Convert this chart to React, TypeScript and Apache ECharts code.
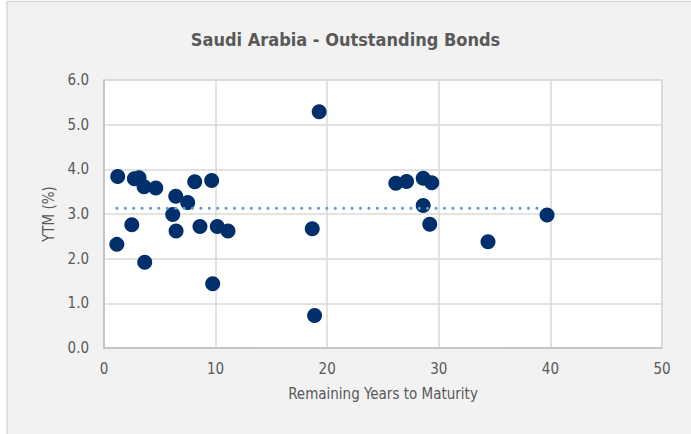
import React, { useEffect, useRef } from "react";
import * as echarts from "echarts";

const maturityYears = [1.23, 1.15, 2.49, 2.72, 3.14, 3.59, 3.65, 4.64, 6.43, 6.16, 6.46, 7.5, 8.13, 8.6, 9.65, 9.74, 10.15, 11.11, 18.66, 19.28, 18.87, 26.15, 27.11, 28.6, 29.37, 28.6, 29.19, 34.41, 39.7];
const ytmValues = [3.84, 2.32, 2.76, 3.79, 3.81, 3.61, 1.92, 3.58, 3.4, 2.99, 2.62, 3.26, 3.72, 2.72, 3.75, 1.44, 2.72, 2.62, 2.67, 5.29, 0.73, 3.69, 3.73, 3.8, 3.7, 3.19, 2.77, 2.38, 2.98];
const averageLineX = [1.15, 39.0];
const averageYtm = 3.13;

const FONT = "'Liberation Sans Narrow', 'DejaVu Sans Condensed', 'Roboto Condensed', sans-serif";

export default function App() {
  const ref = useRef<HTMLDivElement>(null);
  useEffect(() => {
    if (!ref.current) return;
    const chart = echarts.init(ref.current, undefined, { renderer: "svg" });
    const points = maturityYears.map((x, i) => [x, ytmValues[i]]);
    chart.setOption({
      animation: false,
      backgroundColor: "#ffffff",
      graphic: [
        {
          type: "rect",
          z: -10,
          silent: true,
          shape: { x: 7, y: 1.5, width: 700, height: 450 },
          style: { fill: "#f2f2f2", stroke: "#d9d9d9", lineWidth: 1.5 },
        },
      ],
      title: {
        text: "Saudi Arabia - Outstanding Bonds",
        left: "center",
        top: 25,
        textStyle: { fontFamily: FONT, fontSize: 18, fontWeight: "bold", color: "#595959" },
      },
      grid: {
        left: 104,
        right: 29,
        top: 80,
        bottom: 86,
        show: true,
        backgroundColor: "#ffffff",
        borderColor: "#d9d9d9",
        borderWidth: 1.5,
      },
      xAxis: {
        type: "value",
        min: 0,
        max: 50,
        interval: 10,
        name: "Remaining Years to Maturity",
        nameLocation: "middle",
        nameGap: 38,
        nameTextStyle: { fontFamily: FONT, fontSize: 15, color: "#595959" },
        axisLine: { show: true, lineStyle: { color: "#bfbfbf", width: 1.5 } },
        axisTick: { show: false },
        axisLabel: { fontFamily: FONT, fontSize: 15, color: "#595959", margin: 13 },
        splitLine: { show: true, lineStyle: { color: "#d9d9d9", width: 1.5 } },
      },
      yAxis: {
        type: "value",
        min: 0,
        max: 6,
        interval: 1,
        name: "YTM (%)",
        nameLocation: "middle",
        nameGap: 44,
        nameRotate: 90,
        nameTextStyle: { fontFamily: FONT, fontSize: 15, color: "#595959" },
        axisLine: { show: true, lineStyle: { color: "#bfbfbf", width: 1.5 } },
        axisTick: { show: false },
        axisLabel: {
          fontFamily: FONT,
          fontSize: 15,
          color: "#595959",
          margin: 15,
          formatter: (v: number) => v.toFixed(1),
        },
        splitLine: { show: true, lineStyle: { color: "#d9d9d9", width: 1.5 } },
      },
      series: [
        {
          type: "scatter",
          data: points,
          symbol: "circle",
          symbolSize: 15,
          itemStyle: { color: "#002f6c", opacity: 1 },
          z: 2,
        },
        {
          type: "line",
          data: averageLineX.map((x) => [x, averageYtm]),
          symbol: "none",
          lineStyle: { color: "#5b9bd5", width: 3, type: [0.1, 8.3], cap: "round" },
          z: 3,
        },
      ],
    });
    return () => chart.dispose();
  }, []);
  return (
    <div
      ref={ref}
      style={{ position: "absolute", left: 0, top: 0, width: 691, height: 434 }}
    />
  );
}
